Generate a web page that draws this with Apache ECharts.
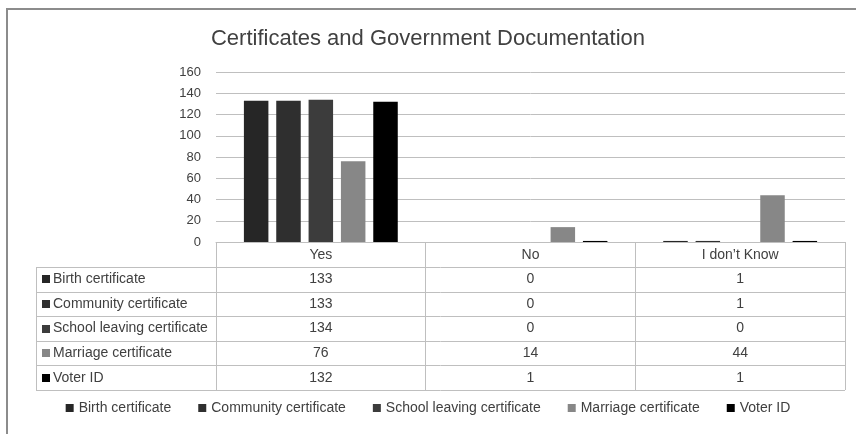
<!DOCTYPE html>
<html>
<head>
<meta charset="utf-8">
<script src="https://cdn.jsdelivr.net/npm/echarts@6/dist/echarts.min.js"></script>
<style>
html,body{margin:0;padding:0;background:#fff;}
#chart{width:856px;height:434px;}
</style>
</head>
<body>
<div id="chart"></div>
<script>
// ---- data ----
var categories = ['Yes', 'No', 'I don\u2019t Know'];
var seriesNames = ['Birth certificate', 'Community certificate', 'School leaving certificate', 'Marriage certificate', 'Voter ID'];
var birthCertificate = [133, 0, 1];
var communityCertificate = [133, 0, 1];
var schoolLeavingCertificate = [134, 0, 0];
var marriageCertificate = [76, 14, 44];
var voterId = [132, 1, 1];
var yTicks = [0, 20, 40, 60, 80, 100, 120, 140, 160];

var seriesValues = [birthCertificate, communityCertificate, schoolLeavingCertificate, marriageCertificate, voterId];
var colors = ['#262626', '#2f2f2f', '#3c3c3c', '#878787', '#000000'];
var FONT = 'Liberation Sans, Arial, sans-serif';
var TXT = '#404040';
var LINE = '#bfbfbf';

var chart = echarts.init(document.getElementById('chart'), null, {renderer: 'canvas'});

var HEADER_H = 25, ROW_H = 24.6, TABLE_LEFT = 36;
var tableH = HEADER_H + ROW_H * seriesNames.length;

var option = {
  animation: false,
  backgroundColor: '#fff',
  color: colors,
  title: {
    text: 'Certificates and Government Documentation',
    left: 'center',
    top: 28,
    padding: 0,
    textStyle: {fontFamily: FONT, fontSize: 22, fontWeight: 'normal', color: TXT}
  },
  legend: {
    bottom: 14,
    left: 'center',
    icon: 'rect',
    itemWidth: 8,
    itemHeight: 8,
    itemGap: 27,
    data: seriesNames,
    textStyle: {fontFamily: FONT, fontSize: 14, color: TXT}
  },
  grid: {left: 216, right: 11, top: 72, bottom: 192, containLabel: false},
  xAxis: {
    type: 'category',
    data: categories,
    z: 5,
    axisLine: {show: true, lineStyle: {color: LINE, width: 1}},
    axisTick: {show: true, length: tableH, lineStyle: {color: LINE, width: 1}},
    axisLabel: {fontFamily: FONT, fontSize: 14, color: TXT, margin: 6}
  },
  yAxis: {
    type: 'value',
    min: yTicks[0],
    max: yTicks[yTicks.length - 1],
    interval: yTicks[1] - yTicks[0],
    axisLine: {show: false},
    axisTick: {show: false},
    splitLine: {lineStyle: {color: LINE, width: 1}},
    axisLabel: {fontFamily: FONT, fontSize: 13, color: TXT, margin: 15}
  },
  series: seriesNames.map(function (n, i) {
    return {
      name: n,
      type: 'bar',
      data: seriesValues[i],
      barWidth: 24.5,
      barGap: '32%',
      itemStyle: {color: colors[i]}
    };
  })
};
chart.setOption(option);

// ---- data table drawn below the axis, positioned from the chart's scales ----
function buildTable() {
  var y0 = chart.convertToPixel({yAxisIndex: 0}, 0);
  var c0 = chart.convertToPixel({xAxisIndex: 0}, categories[0]);
  var c1 = chart.convertToPixel({xAxisIndex: 0}, categories[1]);
  var band = c1 - c0;
  var right = chart.convertToPixel({xAxisIndex: 0}, categories[categories.length - 1]) + band / 2;
  var rowsTop = y0 + HEADER_H;
  var els = [];
  // outer frame
  els.push({type: 'rect', shape: {x: 7, y: 9, width: 900, height: 500},
    style: {fill: null, stroke: '#8c8c8c', lineWidth: 2}, silent: true});
  // left column line
  els.push({type: 'line', shape: {x1: TABLE_LEFT + 0.5, y1: rowsTop, x2: TABLE_LEFT + 0.5, y2: y0 + tableH},
    style: {stroke: LINE, lineWidth: 1}, silent: true});
  for (var k = 0; k <= seriesNames.length; k++) {
    var yy = Math.round(rowsTop + ROW_H * k) + 0.5;
    els.push({type: 'line', shape: {x1: TABLE_LEFT, y1: yy, x2: right, y2: yy},
      style: {stroke: LINE, lineWidth: 1}, silent: true});
  }
  seriesNames.forEach(function (n, i) {
    var cy = rowsTop + ROW_H * (i + 0.5);
    els.push({type: 'rect', shape: {x: TABLE_LEFT + 6, y: Math.round(cy - 4), width: 8, height: 8},
      style: {fill: colors[i]}, silent: true});
    els.push({type: 'text', x: TABLE_LEFT + 17, y: cy,
      style: {text: n, fill: TXT, font: '14px ' + FONT, verticalAlign: 'middle', align: 'left'}, silent: true});
    categories.forEach(function (c, j) {
      var cx = chart.convertToPixel({xAxisIndex: 0}, c);
      els.push({type: 'text', x: cx, y: cy,
        style: {text: String(seriesValues[i][j]), fill: TXT, font: '14px ' + FONT, verticalAlign: 'middle', align: 'center'}, silent: true});
    });
  });
  chart.setOption({graphic: {elements: els}});
}
buildTable();
</script>
</body>
</html>
